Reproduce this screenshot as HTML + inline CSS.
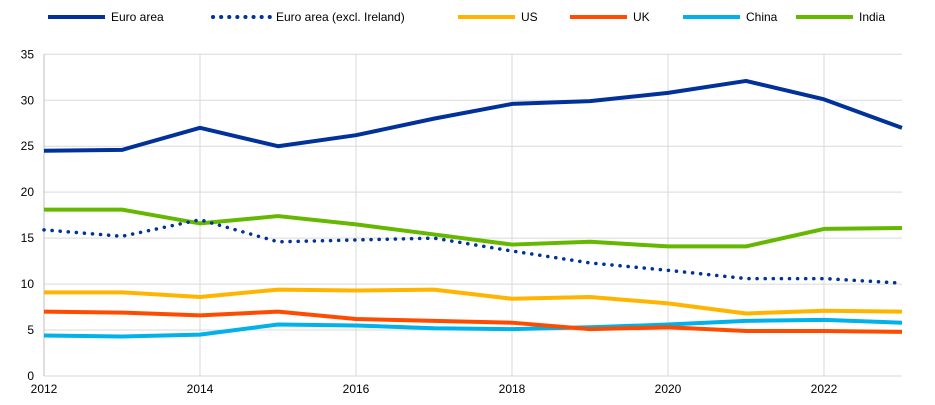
<!DOCTYPE html>
<html><head><meta charset="utf-8"><style>
body{margin:0;background:#fff;}
svg{display:block;font-family:"Liberation Sans",Arial,sans-serif;}
</style></head><body>
<svg id="c" width="935" height="405" xmlns="http://www.w3.org/2000/svg"></svg>
<script>
const s=document.getElementById('c');
const X0=44,X1=902,Y0=376,k=321.7/35;
const x=i=>X0+i*(X1-X0)/11, y=v=>Y0-v*k;
let h='';
for(let v=0;v<=35;v+=5){h+=`<line x1="${X0}" x2="${X1}" y1="${y(v)}" y2="${y(v)}" stroke="#d9d9d9" stroke-width="1"/>`;
h+=`<text x="34" y="${y(v)+4}" font-size="12" text-anchor="end" fill="#000">${v}</text>`;}
for(let i=0;i<=11;i+=2){h+=`<line x1="${x(i)}" x2="${x(i)}" y1="${y(35)}" y2="${Y0}" stroke="#d9d9d9"/>`;
h+=`<text x="${x(i)}" y="393" font-size="12" text-anchor="middle">${2012+i}</text>`;}
h+=`<line x1="${X0}" x2="${X0}" y1="${y(35)}" y2="${Y0}" stroke="#bfbfbf"/>`;
const S=[
['#00b1ea',[4.4,4.3,4.5,5.6,5.5,5.2,5.1,5.3,5.6,6.0,6.1,5.8],0],
['#ff4b00',[7.0,6.9,6.6,7.0,6.2,6.0,5.8,5.1,5.3,4.9,4.9,4.8],0],
['#ffb400',[9.1,9.1,8.6,9.4,9.3,9.4,8.4,8.6,7.9,6.8,7.1,7.0],0],
['#65b800',[18.1,18.1,16.6,17.4,16.5,15.4,14.3,14.6,14.1,14.1,16.0,16.1],0],
['#003299',[15.9,15.2,17.0,14.6,14.8,15.0,13.6,12.3,11.5,10.6,10.6,10.1],1],
['#003299',[24.5,24.6,27.0,25.0,26.2,28.0,29.6,29.9,30.8,32.1,30.1,27.0],0]];
for(const [c,d,dot] of S){
 const p=d.map((v,i)=>x(i)+','+y(v)).join(' ');
 h+=`<polyline points="${p}" fill="none" stroke="${c}" stroke-width="${dot?3.5:4}" stroke-linejoin="round" ${dot?'stroke-dasharray="0.1 8" stroke-linecap="round"':''}/>`;
}
const L=[['Euro area','#003299',0,48],['Euro area (excl. Ireland)','#003299',1,213],['US','#ffb400',0,458],['UK','#ff4b00',0,570],['China','#00b1ea',0,683],['India','#65b800',0,796]];
for(const [t,c,dot,lx] of L){
 h+=`<line x1="${lx}" x2="${lx+57}" y1="17" y2="17" stroke="${c}" stroke-width="4" ${dot?'stroke-dasharray="0.1 8" stroke-linecap="round"':''}/>`;
 h+=`<text x="${lx+63}" y="21" font-size="12">${t}</text>`;
}
s.innerHTML=h;
</script>
</body></html>
